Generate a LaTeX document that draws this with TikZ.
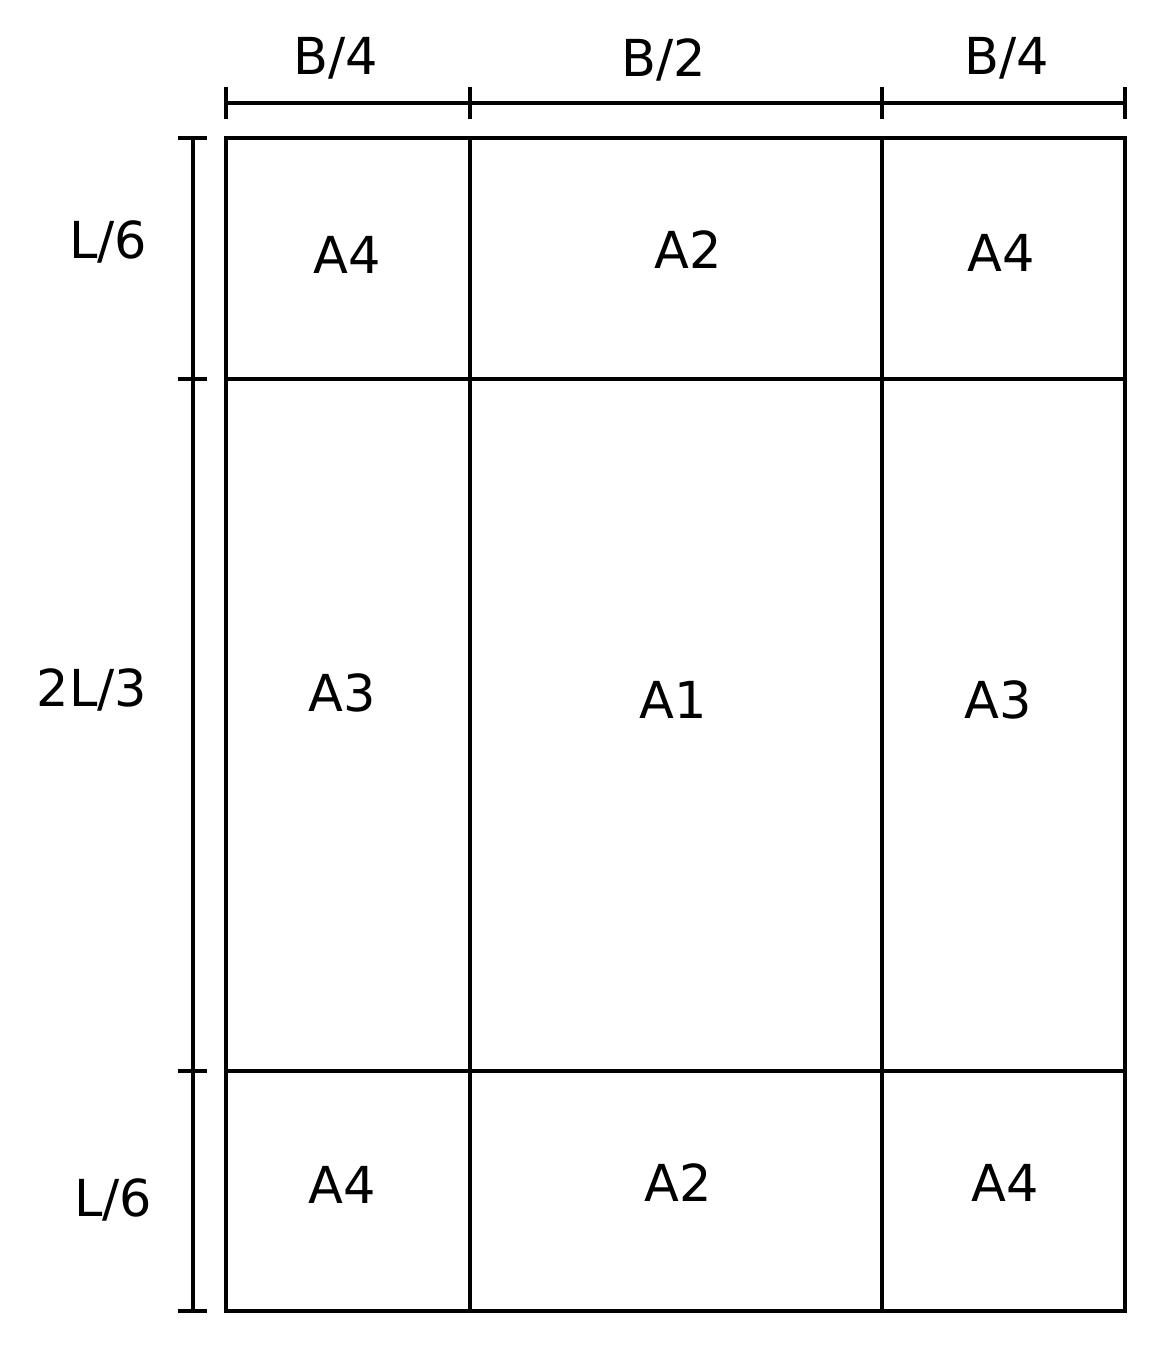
\documentclass[tikz,border=0pt]{standalone}
\usepackage{fontspec}
\setmainfont{DejaVu Sans}
\tikzset{lbl/.style={font=\fontsize{29}{34}\selectfont, inner sep=0pt}}

\begin{document}
\begin{tikzpicture}[x=0.02cm,y=-0.02cm,line width=2pt]
\useasboundingbox (0,0) rectangle (1162,1366);
%Grid
\draw (226,138) rectangle (1125,1311);
\foreach \x in {470,882} \draw (\x,138)--(\x,1311);
\foreach \y in {379,1071} \draw (226,\y)--(1125,\y);

%Dimension lines
\draw (226,103)--(1125,103);
\foreach \x in {226,470,882,1125} \draw (\x,87)--(\x,119);
\draw (193,138)--(193,1311);
\foreach \y in {138,379,1071,1311} \draw (178,\y)--(207,\y);

\node[lbl] (bl) at (336,58) {B/4};
\node[lbl] (bm) at (664,60) {B/2};
\node[lbl] (br) at (1007,58) {B/4};
\node[lbl] (lt) at (108,242) {L/6};
\node[lbl] (lm) at (92,690) {2L/3};
\node[lbl] (lb) at (113,1200) {L/6};

%Areas
\node[lbl] (a4tl) at (347,255) {A4};
\node[lbl] (a2t) at (688,250) {A2};
\node[lbl] (a4tr) at (1001,253) {A4};
\node[lbl] (a3l) at (342,693) {A3};
\node[lbl] (a1) at (673,700) {A1};
\node[lbl] (a3r) at (998,700) {A3};
\node[lbl] (a4bl) at (342,1185) {A4};
\node[lbl] (a2b) at (678,1183) {A2};
\node[lbl] (a4br) at (1005,1183) {A4};
\end{tikzpicture}
\end{document}
